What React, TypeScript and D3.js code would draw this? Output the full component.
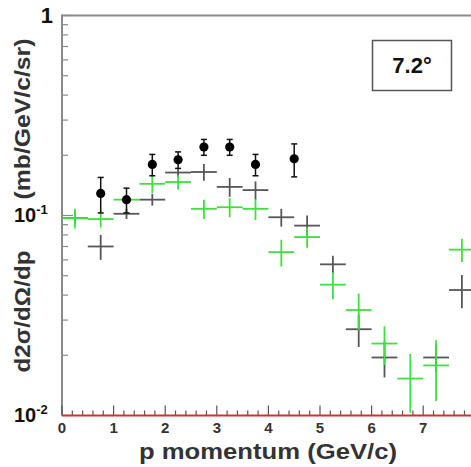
import React from "react";
import * as d3 from "d3";

const binCenters = [0.25, 0.75, 1.25, 1.75, 2.25, 2.75, 3.25, 3.75, 4.25, 4.75, 5.25, 5.75, 6.25, 6.75, 7.25, 7.75];
const binHalfWidth = 0.25;

const blackCross: (number | null)[] = [0.097, 0.070, 0.102, 0.120, 0.164, 0.165, 0.139, 0.134, 0.098, 0.089, 0.057, 0.027, 0.0195, null, 0.0195, 0.0424];
const blackCrossErr = [0.006, 0.010, 0.006, 0.008, 0.008, 0.016, 0.015, 0.014, 0.010, 0.011, 0.006, 0.005, 0.004, 0, 0.003, 0.008];

const greenCross = [0.097, 0.096, 0.120, 0.144, 0.147, 0.108, 0.110, 0.108, 0.0656, 0.078, 0.0451, 0.0337, 0.0229, 0.0153, 0.0178, 0.0675];
const greenCrossErr = [0.011, 0.009, 0.005, 0.015, 0.012, 0.012, 0.012, 0.013, 0.010, 0.009, 0.007, 0.007, 0.005, 0.005, 0.006, 0.009];

const circleX = [0.75, 1.25, 1.75, 2.25, 2.75, 3.25, 3.75, 4.5];
const circleY = [0.129, 0.120, 0.180, 0.190, 0.220, 0.220, 0.180, 0.192];
const circleErr = [0.026, 0.017, 0.022, 0.018, 0.020, 0.020, 0.022, 0.036];

const xTickLabels = ["0", "1", "2", "3", "4", "5", "6", "7", "8"];
const yDecades = [0.01, 0.1, 1];
const yDecadeExp = ["-2", "-1", ""];

const legendText = "7.2°";
const xTitle = "p momentum (GeV/c)";
const yTitleLeft = "d2σ/dΩ/dp";
const yTitleRight = "(mb/GeV/c/sr)";

const W = 471;
const H = 467;
const FONT = "'Liberation Sans', Arial, Helvetica, sans-serif";

export default function App() {
  const x = d3.scaleLinear().domain([0, 8]).range([62, 474.8]);
  const y = d3.scaleLog().domain([0.01, 1]).range([415.5, 15.5]);
  const axisColor = "#8a8a8a";
  const blackColor = "#3a3a3a";
  const greenColor = "#3ee03e";

  const xMinor = d3.range(0, 8.01, 0.2).filter((v) => Math.abs(v - Math.round(v)) > 1e-6);
  const xMajor = d3.range(0, 9, 1);
  const yMinor: number[] = [];
  [0.01, 0.1].forEach((d) => {
    for (let k = 2; k <= 9; k++) yMinor.push(d * k);
  });

  const clipY = (v: number) => Math.min(y(0.01), Math.max(y(1), v));

  return (
    <svg width={W} height={H} style={{ position: "absolute", left: 0, top: 0, background: "#fff" }} fontFamily={FONT}>
      <defs>
        <clipPath id="plot">
          <rect x={62} y={15} width={420} height={401} />
        </clipPath>
      </defs>

      {/* frame */}
      <line x1={62} x2={W} y1={y(1)} y2={y(1)} stroke={axisColor} strokeWidth={2} />
      <line x1={62} x2={62} y1={y(1) - 1} y2={y(0.01)} stroke={axisColor} strokeWidth={2} />

      {/* y ticks */}
      {yMinor.map((v, i) => (
        <line key={"ym" + i} x1={62} x2={68} y1={y(v)} y2={y(v)} stroke={axisColor} strokeWidth={1.2} />
      ))}
      {yDecades.map((v, i) => (
        <line key={"yM" + i} x1={62} x2={73} y1={y(v)} y2={y(v)} stroke={axisColor} strokeWidth={1.2} />
      ))}

      {/* y tick labels */}
      {yDecades.map((v, i) =>
        yDecadeExp[i] === "" ? (
          <text key={"yl" + i} x={53} y={y(v) + 7.5} textAnchor="end" fontSize={22} fontWeight="bold" fill="#111">
            1
          </text>
        ) : (
          <text key={"yl" + i} x={14} y={y(v) + 6} fontSize={20} fontWeight="bold" fill="#111">
            10
            <tspan fontSize={13} dy={-8}>{yDecadeExp[i]}</tspan>
          </text>
        )
      )}

      {/* x ticks */}
      {xMinor.map((v, i) => (
        <line key={"xm" + i} x1={x(v)} x2={x(v)} y1={y(0.01)} y2={y(0.01) - 5} stroke="#555" strokeWidth={1.2} />
      ))}
      {xMajor.map((v, i) => (
        <line key={"xM" + i} x1={x(v)} x2={x(v)} y1={y(0.01)} y2={y(0.01) - 10} stroke="#555" strokeWidth={1.2} />
      ))}
      {xMajor.map((v, i) => (
        <text key={"xl" + i} x={x(v)} y={433} textAnchor="middle" fontSize={15} fontWeight="bold" fill="#333">
          {xTickLabels[i]}
        </text>
      ))}

      {/* red baseline */}
      <line x1={62} x2={W} y1={y(0.01)} y2={y(0.01)} stroke="#d43030" strokeWidth={2} />

      <g clipPath="url(#plot)">
        {/* black crosses */}
        {binCenters.map((c, i) => {
          const v = blackCross[i];
          if (v == null) return null;
          const e = blackCrossErr[i];
          return (
            <g key={"bc" + i} stroke={blackColor} strokeWidth={1.8} opacity={0.85}>
              <line x1={x(c - binHalfWidth)} x2={x(c + binHalfWidth)} y1={y(v)} y2={y(v)} />
              <line x1={x(c)} x2={x(c)} y1={clipY(y(v + e))} y2={clipY(y(Math.max(v - e, 0.0101)))} />
            </g>
          );
        })}
        {/* green crosses */}
        {binCenters.map((c, i) => {
          const v = greenCross[i];
          const e = greenCrossErr[i];
          return (
            <g key={"gc" + i} stroke={greenColor} strokeWidth={1.8}>
              <line x1={x(c - binHalfWidth)} x2={x(c + binHalfWidth)} y1={y(v)} y2={y(v)} />
              <line x1={x(c)} x2={x(c)} y1={clipY(y(v + e))} y2={clipY(y(Math.max(v - e, 0.0101)))} />
            </g>
          );
        })}
        {/* black circles */}
        {circleX.map((c, i) => {
          const v = circleY[i];
          const e = circleErr[i];
          const top = y(v + e);
          const bot = y(v - e);
          return (
            <g key={"ci" + i} stroke="#111" strokeWidth={1.5}>
              <line x1={x(c)} x2={x(c)} y1={top} y2={bot} />
              <line x1={x(c) - 3} x2={x(c) + 3} y1={top} y2={top} />
              <line x1={x(c) - 3} x2={x(c) + 3} y1={bot} y2={bot} />
              <circle cx={x(c)} cy={y(v)} r={4.6} fill="#000" stroke="none" />
            </g>
          );
        })}
      </g>

      {/* legend box */}
      <rect x={372.5} y={40.5} width={79} height={50} fill="#fff" stroke="#555" strokeWidth={1.5} />
      <text x={412} y={73} textAnchor="middle" fontSize={22} fontWeight="bold" fill="#111">
        {legendText}
      </text>

      {/* axis titles */}
      <text x={268} y={459} textAnchor="middle" fontSize={22} fontWeight="bold" fill="#333"
        textLength={258} lengthAdjust="spacingAndGlyphs">
        {xTitle}
      </text>
      <text transform="translate(30,311.5) rotate(-90)" textAnchor="middle" fontSize={21.5} fontWeight="bold" fill="#333"
        textLength={122} lengthAdjust="spacingAndGlyphs">
        {yTitleLeft}
      </text>
      <text transform="translate(30,119) rotate(-90)" textAnchor="middle" fontSize={21.5} fontWeight="bold" fill="#333"
        textLength={161} lengthAdjust="spacingAndGlyphs">
        {yTitleRight}
      </text>
    </svg>
  );
}
